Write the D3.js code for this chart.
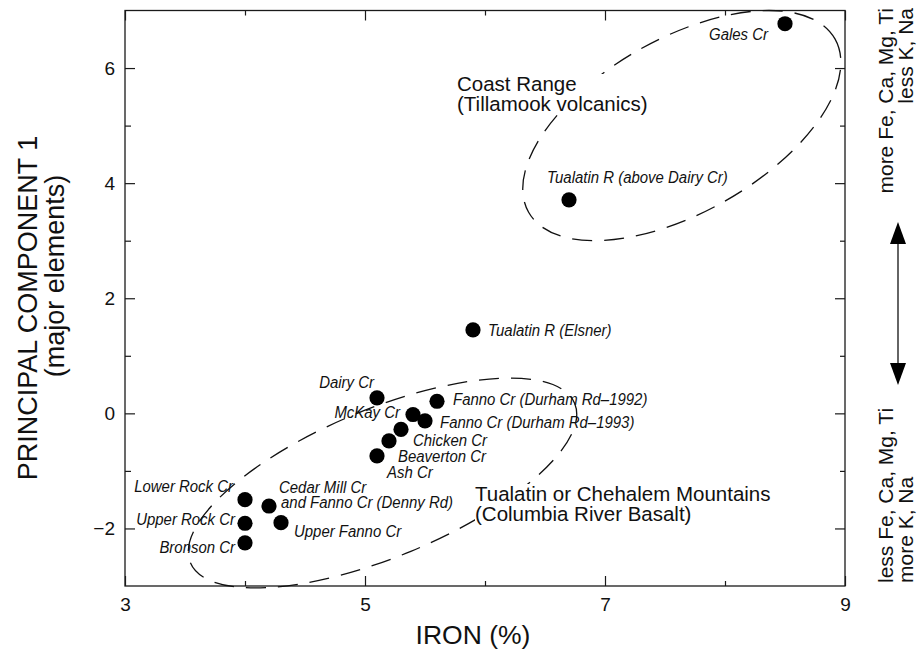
<!DOCTYPE html>
<html>
<head>
<meta charset="utf-8">
<script src="https://cdn.jsdelivr.net/npm/d3@7"></script>
<style>
  html, body { margin: 0; padding: 0; background: #fff; }
  svg { display: block; font-family: "Liberation Sans", Arial, Helvetica, sans-serif; }
</style>
</head>
<body>
<svg id="chart" width="920" height="652"></svg>
<script>
// Stream sediment samples: iron content vs. first principal component
const sites = [
  "Gales Cr", "Tualatin R (above Dairy Cr)", "Tualatin R (Elsner)", "Dairy Cr",
  "Fanno Cr (Durham Rd\u20131992)", "McKay Cr", "Fanno Cr (Durham Rd\u20131993)",
  "Chicken Cr", "Beaverton Cr", "Ash Cr", "Lower Rock Cr", "Upper Rock Cr",
  "Bronson Cr", "Cedar Mill Cr|and Fanno Cr (Denny Rd)", "Upper Fanno Cr"
];
const ironPct = [8.5, 6.7, 5.9, 5.1, 5.6, 5.4, 5.5, 5.3, 5.2, 5.1, 4.0, 4.0, 4.0, 4.2, 4.3];
const pc1     = [6.77, 3.71, 1.45, 0.27, 0.21, -0.02, -0.13, -0.28, -0.48, -0.74, -1.50, -1.91, -2.25, -1.61, -1.90];

const xTickLabels = [3, 5, 7, 9];
const xMinorTicks = [4, 6, 8];
const yTickLabels = [-2, 0, 2, 4, 6];
const yMinorTicks = [-1, 1, 3, 5];

const regionNames = [
  ["Coast Range", "(Tillamook volcanics)"],
  ["Tualatin or Chehalem Mountains", "(Columbia River Basalt)"]
];

// label placement around each point (pixel offsets from the dot)
const labelPlacement = [
  {dx: -17, dy: 16, anchor: "end"},
  {dx: -22, dy: -17, anchor: "start"},
  {dx: 15, dy: 6, anchor: "start"},
  {dx: -3, dy: -10, anchor: "end"},
  {dx: 16, dy: 4, anchor: "start"},
  {dx: -13, dy: 3, anchor: "end"},
  {dx: 15, dy: 7, anchor: "start"},
  {dx: 12, dy: 16.5, anchor: "start"},
  {dx: 9, dy: 21, anchor: "start"},
  {dx: 10, dy: 22, anchor: "start"},
  {dx: -12, dy: -8, anchor: "end"},
  {dx: -10, dy: 2, anchor: "end"},
  {dx: -10, dy: 10, anchor: "end"},
  {dx: 10, dy: -13, anchor: "start"},
  {dx: 13, dy: 14, anchor: "start"}
];

// outlines of the two source groups: centre in data units, radii in px
const regionOutlines = [
  {cx: 7.64, cy: 5.0, rx: 176, ry: 87, angle: -29.5, text: {x: 457, y: 91}},
  {cx: 5.146, cy: -1.21, rx: 208, ry: 74, angle: -22.5, text: {x: 475, y: 501}}
];

const svg = d3.select("#chart");
const plotLeft = 125, plotRight = 845, plotTop = 10.5, plotBottom = 586;

const x = d3.scaleLinear().domain([3, 9]).range([plotLeft, plotRight]);
const y = d3.scaleLinear().domain([-3, 7]).range([plotBottom, plotTop]);

const axisColor = "#1a1a1a";

// frame
svg.append("rect")
  .attr("x", plotLeft).attr("y", plotTop)
  .attr("width", plotRight - plotLeft).attr("height", plotBottom - plotTop)
  .attr("fill", "none").attr("stroke", axisColor).attr("stroke-width", 1.3);

function styleAxis(g) {
  g.select(".domain").remove();
  g.selectAll(".tick line").attr("stroke", axisColor).attr("stroke-width", 1.2);
  g.selectAll(".tick text")
    .attr("fill", "#111")
    .style("font-size", "19px")
    .style("font-family", "'Liberation Sans', Arial, sans-serif");
}

// bottom
svg.append("g").attr("transform", `translate(0,${plotBottom})`)
  .call(d3.axisBottom(x).tickValues(xTickLabels).tickSize(-10).tickPadding(12).tickFormat(d3.format("d")))
  .call(styleAxis);
svg.append("g").attr("transform", `translate(0,${plotBottom})`)
  .call(d3.axisBottom(x).tickValues(xMinorTicks).tickSize(-5).tickFormat(""))
  .call(styleAxis);
// top
svg.append("g").attr("transform", `translate(0,${plotTop})`)
  .call(d3.axisTop(x).tickValues(xTickLabels).tickSize(-10).tickFormat(""))
  .call(styleAxis);
svg.append("g").attr("transform", `translate(0,${plotTop})`)
  .call(d3.axisTop(x).tickValues(xMinorTicks).tickSize(-5).tickFormat(""))
  .call(styleAxis);
// left
svg.append("g").attr("transform", `translate(${plotLeft},0)`)
  .call(d3.axisLeft(y).tickValues(yTickLabels).tickSize(-10).tickPadding(10)
    .tickFormat(d => d < 0 ? "\u2212" + Math.abs(d) : String(d)))
  .call(styleAxis);
svg.append("g").attr("transform", `translate(${plotLeft},0)`)
  .call(d3.axisLeft(y).tickValues(yMinorTicks).tickSize(-6).tickFormat(""))
  .call(styleAxis);
// right
svg.append("g").attr("transform", `translate(${plotRight},0)`)
  .call(d3.axisRight(y).tickValues(yTickLabels).tickSize(-10).tickFormat(""))
  .call(styleAxis);
svg.append("g").attr("transform", `translate(${plotRight},0)`)
  .call(d3.axisRight(y).tickValues(yMinorTicks).tickSize(-5).tickFormat(""))
  .call(styleAxis);

// axis titles
svg.append("text")
  .attr("x", 473).attr("y", 644)
  .attr("text-anchor", "middle")
  .style("font-size", "26.5px").attr("fill", "#111")
  .text("IRON (%)");

const yTitle = svg.append("g").attr("fill", "#111");
yTitle.append("text")
  .attr("transform", "translate(37,308) rotate(-90)")
  .attr("text-anchor", "middle")
  .style("font-size", "27px")
  .text("PRINCIPAL COMPONENT 1");
yTitle.append("text")
  .attr("transform", "translate(64,276) rotate(-90)")
  .attr("text-anchor", "middle")
  .style("font-size", "27px")
  .text("(major elements)");

// group outlines
const outlines = svg.append("g");
regionOutlines.forEach(r => {
  const cx = x(r.cx), cy = y(r.cy);
  outlines.append("ellipse")
    .attr("cx", cx).attr("cy", cy)
    .attr("rx", r.rx).attr("ry", r.ry)
    .attr("transform", `rotate(${r.angle},${cx},${cy})`)
    .attr("fill", "none")
    .attr("stroke", "#111")
    .attr("stroke-width", 1.3)
    .attr("stroke-dasharray", "20,12");
});

// group names, on a white panel so the dashed outline breaks around them
regionOutlines.forEach((r, i) => {
  const g = svg.append("g");
  const bg = g.append("rect").attr("fill", "#fff");
  const t = g.append("text")
    .attr("x", r.text.x).attr("y", r.text.y)
    .style("font-size", "20.5px").attr("fill", "#111");
  regionNames[i].forEach((line, j) => {
    t.append("tspan").attr("x", r.text.x).attr("y", r.text.y + j * 20).text(line);
  });
  const bb = t.node().getBBox();
  bg.attr("x", bb.x).attr("y", bb.y + 2).attr("width", bb.width).attr("height", bb.height - 3);
});

// sample points
const samples = sites.map((s, i) => ({name: s, fe: ironPct[i], pc: pc1[i], place: labelPlacement[i]}));

svg.append("g").selectAll("circle")
  .data(samples)
  .join("circle")
  .attr("cx", d => x(d.fe))
  .attr("cy", d => y(d.pc))
  .attr("r", 7.6)
  .attr("fill", "#000");

// sample labels (narrow italic)
const labels = svg.append("g").attr("fill", "#111");
samples.forEach(d => {
  const px = x(d.fe) + d.place.dx, py = y(d.pc) + d.place.dy;
  const lines = d.name.split("|");
  lines.forEach((line, j) => {
    labels.append("text")
      .attr("transform", `translate(${px + j * 2},${py + j * 15}) scale(0.88,1)`)
      .attr("text-anchor", d.place.anchor)
      .style("font-size", "17px")
      .style("font-style", "italic")
      .text(line);
  });
});

// right-hand interpretation key
const key = svg.append("g").attr("fill", "#111").style("font-size", "21px");
key.append("text").attr("transform", "translate(893,8) rotate(-90)").attr("text-anchor", "end").text("more Fe, Ca, Mg, Ti");
key.append("text").attr("transform", "translate(913,8) rotate(-90)").attr("text-anchor", "end").text("less K, Na");
key.append("text").attr("transform", "translate(893,583) rotate(-90)").attr("text-anchor", "start").text("less Fe, Ca, Mg, Ti");
key.append("text").attr("transform", "translate(913,583) rotate(-90)").attr("text-anchor", "start").text("more K, Na");

const ax = 898, aTop = 222, aBot = 385, headL = 22, headW = 8;
key.append("line")
  .attr("x1", ax).attr("x2", ax)
  .attr("y1", aTop + headL - 2).attr("y2", aBot - headL + 2)
  .attr("stroke", "#111").attr("stroke-width", 1.3);
key.append("path")
  .attr("d", `M${ax},${aTop} L${ax - headW},${aTop + headL} L${ax + headW},${aTop + headL} Z`)
  .attr("fill", "#000");
key.append("path")
  .attr("d", `M${ax},${aBot} L${ax - headW},${aBot - headL} L${ax + headW},${aBot - headL} Z`)
  .attr("fill", "#000");
</script>
</body>
</html>
